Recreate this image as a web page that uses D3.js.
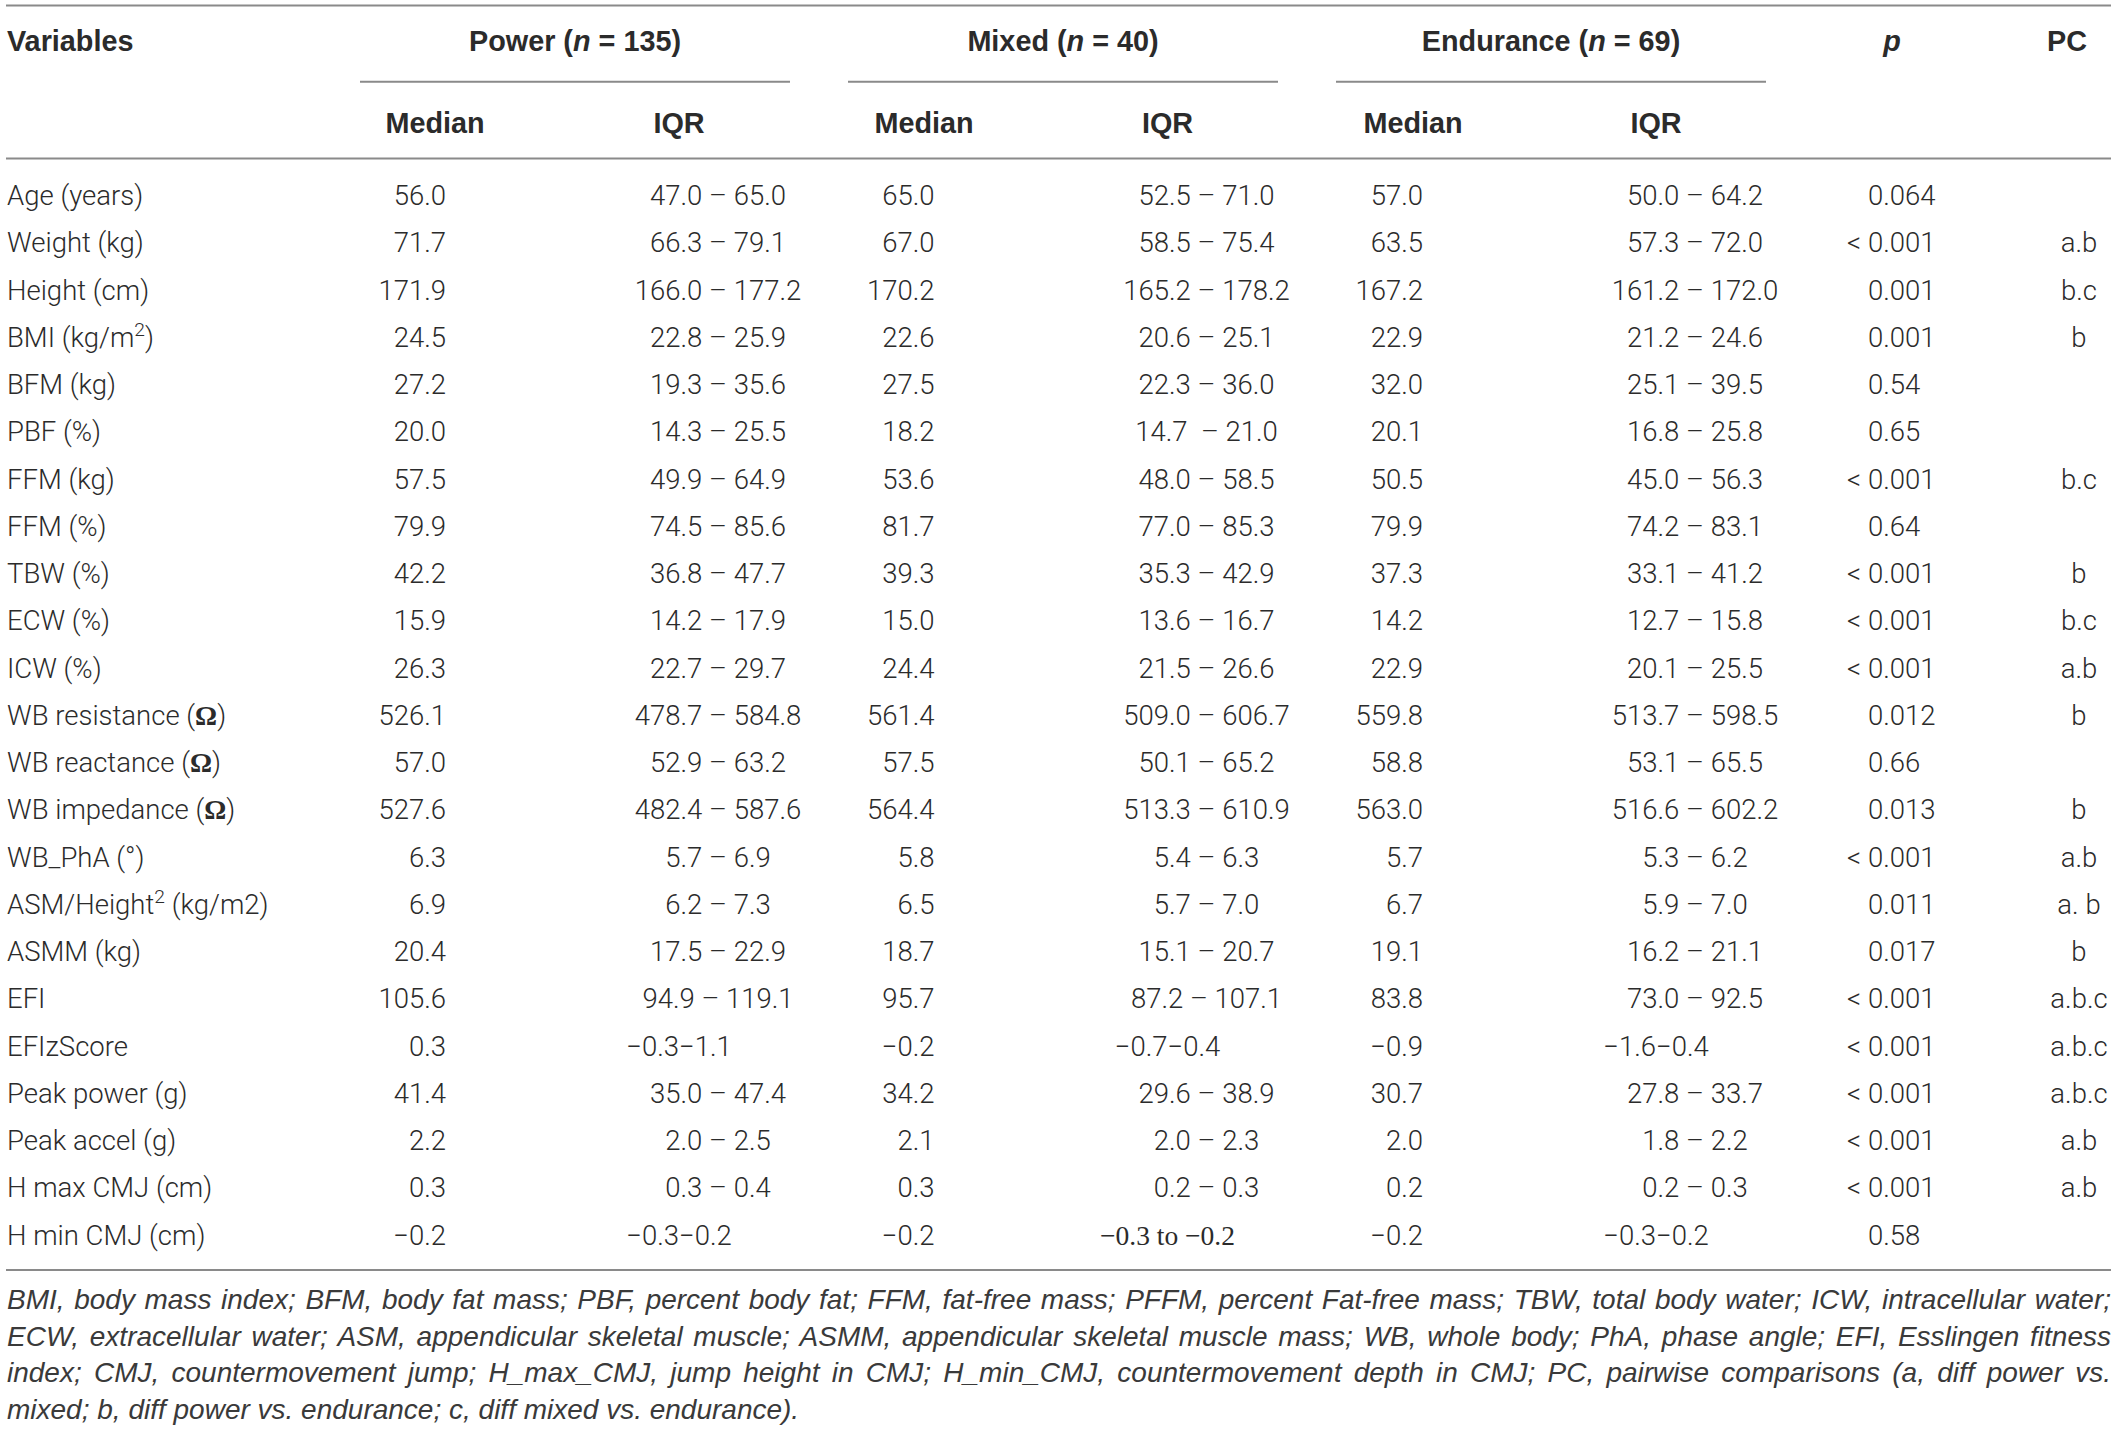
<!DOCTYPE html>
<html>
<head>
<meta charset="utf-8">
<script src="https://cdn.jsdelivr.net/npm/d3@7"></script>
<style>
  body { margin: 0; background: #fff; }
  text { white-space: pre; }
</style>
</head>
<body>
<div class="tablechart"></div>
<script>
var w = 2118;
var h = 1431;
var bodyFont = "Roboto, 'Liberation Sans', sans-serif";
var fontSize = 27.5;
var textColor = "#2b2b2b";
var ruleColor = "#8a8a8a";

// table data
var variables = ["Age (years)", "Weight (kg)", "Height (cm)", "BMI (kg/m^2)", "BFM (kg)", "PBF (%)",
  "FFM (kg)", "FFM (%)", "TBW (%)", "ECW (%)", "ICW (%)", "WB resistance (Ω)", "WB reactance (Ω)",
  "WB impedance (Ω)", "WB_PhA (°)", "ASM/Height^2 (kg/m2)", "ASMM (kg)", "EFI", "EFIzScore",
  "Peak power (g)", "Peak accel (g)", "H max CMJ (cm)", "H min CMJ (cm)"];

var powerMedian = ["56.0", "71.7", "171.9", "24.5", "27.2", "20.0", "57.5", "79.9", "42.2", "15.9", "26.3",
  "526.1", "57.0", "527.6", "6.3", "6.9", "20.4", "105.6", "0.3", "41.4", "2.2", "0.3", "−0.2"];
var powerIQR = ["47.0 – 65.0", "66.3 – 79.1", "166.0 – 177.2", "22.8 – 25.9", "19.3 – 35.6", "14.3 – 25.5",
  "49.9 – 64.9", "74.5 – 85.6", "36.8 – 47.7", "14.2 – 17.9", "22.7 – 29.7", "478.7 – 584.8", "52.9 – 63.2",
  "482.4 – 587.6", "5.7 – 6.9", "6.2 – 7.3", "17.5 – 22.9", "94.9 – 119.1", "−0.3−1.1", "35.0 – 47.4",
  "2.0 – 2.5", "0.3 – 0.4", "−0.3−0.2"];

var mixedMedian = ["65.0", "67.0", "170.2", "22.6", "27.5", "18.2", "53.6", "81.7", "39.3", "15.0", "24.4",
  "561.4", "57.5", "564.4", "5.8", "6.5", "18.7", "95.7", "−0.2", "34.2", "2.1", "0.3", "−0.2"];
var mixedIQR = ["52.5 – 71.0", "58.5 – 75.4", "165.2 – 178.2", "20.6 – 25.1", "22.3 – 36.0", "14.7  – 21.0",
  "48.0 – 58.5", "77.0 – 85.3", "35.3 – 42.9", "13.6 – 16.7", "21.5 – 26.6", "509.0 – 606.7", "50.1 – 65.2",
  "513.3 – 610.9", "5.4 – 6.3", "5.7 – 7.0", "15.1 – 20.7", "87.2 – 107.1", "−0.7−0.4", "29.6 – 38.9",
  "2.0 – 2.3", "0.2 – 0.3", "−0.3 to −0.2"];

var enduranceMedian = ["57.0", "63.5", "167.2", "22.9", "32.0", "20.1", "50.5", "79.9", "37.3", "14.2", "22.9",
  "559.8", "58.8", "563.0", "5.7", "6.7", "19.1", "83.8", "−0.9", "30.7", "2.0", "0.2", "−0.2"];
var enduranceIQR = ["50.0 – 64.2", "57.3 – 72.0", "161.2 – 172.0", "21.2 – 24.6", "25.1 – 39.5", "16.8 – 25.8",
  "45.0 – 56.3", "74.2 – 83.1", "33.1 – 41.2", "12.7 – 15.8", "20.1 – 25.5", "513.7 – 598.5", "53.1 – 65.5",
  "516.6 – 602.2", "5.3 – 6.2", "5.9 – 7.0", "16.2 – 21.1", "73.0 – 92.5", "−1.6−0.4", "27.8 – 33.7",
  "1.8 – 2.2", "0.2 – 0.3", "−0.3−0.2"];

var pValues = ["0.064", "< 0.001", "0.001", "0.001", "0.54", "0.65", "< 0.001", "0.64", "< 0.001", "< 0.001",
  "< 0.001", "0.012", "0.66", "0.013", "< 0.001", "0.011", "0.017", "< 0.001", "< 0.001", "< 0.001",
  "< 0.001", "< 0.001", "0.58"];
var pcValues = ["", "a.b", "b.c", "b", "", "", "b.c", "", "b", "b.c", "a.b", "b", "", "b", "a.b", "a. b", "b",
  "a.b.c", "a.b.c", "a.b.c", "a.b", "a.b", ""];

var groups = [["Power", "135"], ["Mixed", "40"], ["Endurance", "69"]];

var footnote = [
  "BMI, body mass index; BFM, body fat mass; PBF, percent body fat; FFM, fat-free mass; PFFM, percent Fat-free mass; TBW, total body water; ICW, intracellular water;",
  "ECW, extracellular water; ASM, appendicular skeletal muscle; ASMM, appendicular skeletal muscle mass; WB, whole body; PhA, phase angle; EFI, Esslingen fitness",
  "index; CMJ, countermovement jump; H_max_CMJ, jump height in CMJ; H_min_CMJ, countermovement depth in CMJ; PC, pairwise comparisons (a, diff power vs.",
  "mixed; b, diff power vs. endurance; c, diff mixed vs. endurance)."
];

// layout
var groupCenter = d3.scaleLinear().domain([0, 2]).range([575, 1551]);
var medianRight = d3.scaleLinear().domain([0, 2]).range([446, 1423]);
var medianHead = d3.scaleLinear().domain([0, 2]).range([435, 1413]);
var iqrHead = d3.scaleLinear().domain([0, 2]).range([679, 1656]);
var iqrShift = 39; // ranges written "a – b" sit a bit right of the header
var groupHalf = 215;
var pX = 1868, pHeadX = 1892, pcX = 2079, pcHeadX = 2067;
var leftX = 6, rightX = 2111;

var yRow = d3.scaleLinear().domain([0, variables.length - 1]).range([205, 1244.5]);

var svg = d3.select(".tablechart")
  .append("svg")
  .attr("width", w)
  .attr("height", h)
  .style("font-family", bodyFont)
  .style("font-size", fontSize + "px")
  .attr("fill", textColor);

function rule(y, x1, x2) {
  svg.append("line")
    .attr("x1", x1).attr("x2", x2)
    .attr("y1", y).attr("y2", y)
    .attr("stroke", ruleColor)
    .attr("stroke-width", 2);
}

rule(5.5, leftX, rightX);
rule(158.5, leftX, rightX);
rule(1270, leftX, rightX);

// header
var head = svg.append("g").attr("font-weight", 700).style("font-family", "'Liberation Sans', Arial, sans-serif").style("font-size", "28.8px");

head.append("text").attr("x", 7).attr("y", 51).text("Variables");

groups.forEach(function (g, i) {
  var t = head.append("text")
    .attr("x", groupCenter(i)).attr("y", 51)
    .attr("text-anchor", "middle");
  t.append("tspan").text(g[0] + " (");
  t.append("tspan").attr("font-style", "italic").text("n");
  t.append("tspan").text(" = " + g[1] + ")");

  rule(81.7, groupCenter(i) - groupHalf, groupCenter(i) + groupHalf);

  head.append("text").attr("x", medianHead(i)).attr("y", 133)
    .attr("text-anchor", "middle").text("Median");
  head.append("text").attr("x", iqrHead(i)).attr("y", 133)
    .attr("text-anchor", "middle").text("IQR");
});

head.append("text").attr("x", pHeadX).attr("y", 51).attr("text-anchor", "middle")
  .attr("font-style", "italic").text("p");
head.append("text").attr("x", pcHeadX).attr("y", 51).attr("text-anchor", "middle").text("PC");

// body
var body = svg.append("g").attr("font-weight", 300);

function richText(sel, s) {
  // "^2" -> superscript, Ω -> bold serif glyph
  var parts = s.split(/(\^\d|Ω)/);
  var back = 0; // dy to apply on the piece after a superscript
  parts.forEach(function (p) {
    if (!p) return;
    var t;
    if (p[0] === "^") {
      sel.append("tspan").attr("dy", -11).attr("font-size", "0.7em").text(p.slice(1));
      back = 11;
      return;
    } else if (p === "Ω") {
      t = sel.append("tspan").attr("font-family", "'Liberation Serif', serif").attr("font-weight", 700).text(p);
    } else {
      t = sel.append("tspan").text(p);
    }
    if (back) { t.attr("dy", back); back = 0; }
  });
}

body.selectAll(".var-label")
  .data(variables)
  .enter().append("text")
  .attr("class", "var-label")
  .attr("x", 7)
  .attr("y", function (d, i) { return yRow(i); })
  .each(function (d) { richText(d3.select(this), d); });

var medians = [powerMedian, mixedMedian, enduranceMedian];
var iqrs = [powerIQR, mixedIQR, enduranceIQR];

medians.forEach(function (col, g) {
  body.selectAll(".med" + g)
    .data(col)
    .enter().append("text")
    .attr("class", "med" + g)
    .attr("x", medianRight(g))
    .attr("y", function (d, i) { return yRow(i); })
    .attr("text-anchor", "end")
    .text(function (d) { return d; });
});

iqrs.forEach(function (col, g) {
  body.selectAll(".iqr" + g)
    .data(col)
    .enter().append("text")
    .attr("class", "iqr" + g)
    .attr("x", function (d) { return d.indexOf(" – ") >= 0 ? iqrHead(g) + iqrShift : iqrHead(g); })
    .attr("y", function (d, i) { return yRow(i); })
    .attr("text-anchor", "middle")
    .style("font-family", function (d) { return d.indexOf(" to ") >= 0 ? "'Liberation Serif', serif" : null; })
    .attr("font-weight", function (d) { return d.indexOf(" to ") >= 0 ? 400 : null; })
    .text(function (d) { return d; });
});

// p values: the number starts at pX, a "<" hangs to the left
body.selectAll(".pval")
  .data(pValues)
  .enter().append("text")
  .attr("class", "pval")
  .attr("x", pX)
  .attr("y", function (d, i) { return yRow(i); })
  .text(function (d) { return d.replace("< ", ""); });

body.selectAll(".plt")
  .data(pValues.map(function (d, i) { return {v: d, i: i}; }).filter(function (d) { return d.v.indexOf("<") === 0; }))
  .enter().append("text")
  .attr("class", "plt")
  .attr("x", pX - 7)
  .attr("y", function (d) { return yRow(d.i); })
  .attr("text-anchor", "end")
  .text("<");

body.selectAll(".pc")
  .data(pcValues)
  .enter().append("text")
  .attr("class", "pc")
  .attr("x", pcX)
  .attr("y", function (d, i) { return yRow(i); })
  .attr("text-anchor", "middle")
  .text(function (d) { return d; });

// footnote, justified except the last line
var yNote = d3.scaleLinear().domain([0, 3]).range([1309, 1418.5]);
var note = svg.append("g")
  .attr("font-style", "italic")
  .style("font-family", "'Liberation Sans', Arial, sans-serif")
  .style("font-size", "28px")
  .attr("fill", "#3a3a3a");

note.selectAll("text")
  .data(footnote)
  .enter().append("text")
  .attr("x", 7)
  .attr("y", function (d, i) { return yNote(i); })
  .text(function (d) { return d; })
  .each(function (d, i) {
    if (i === footnote.length - 1) return;
    var natural = this.getComputedTextLength();
    var gaps = d.split(" ").length - 1;
    var extra = (rightX - 7 - natural) / gaps;
    d3.select(this).attr("word-spacing", extra);
  });
</script>
</body>
</html>
